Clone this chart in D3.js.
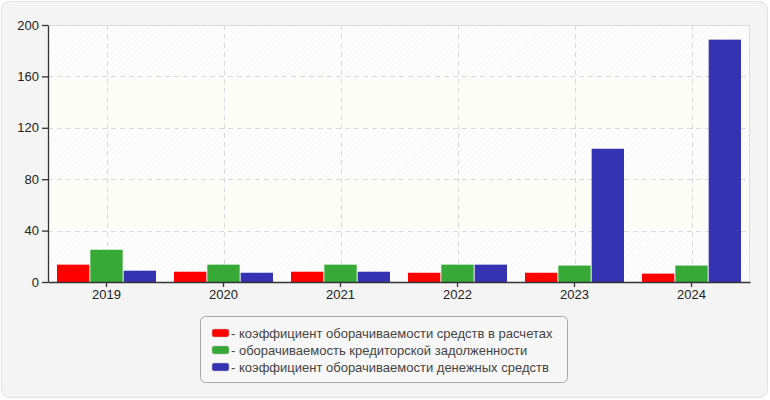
<!DOCTYPE html>
<html><head><meta charset="utf-8">
<script src="https://cdn.jsdelivr.net/npm/d3@7"></script>
<style>body{margin:0;background:#fff;font-family:"Liberation Sans",Arial,sans-serif}</style>
</head><body><svg id="c" width="770" height="400"></svg>
<script>
const categories = ["2019","2020","2021","2022","2023","2024"];
const seriesNames = [
  "- коэффициент оборачиваемости средств в расчетах",
  "- оборачиваемость кредиторской задолженности",
  "- коэффициент оборачиваемости денежных средств"
];
const seriesColors = ["#ff0000","#36a936","#3633b2"];
const receivablesTurnover = [13.5, 8.0, 8.0, 7.2, 7.2, 6.5];
const payablesTurnover = [25.1, 13.5, 13.5, 13.5, 12.8, 12.8];
const cashTurnover = [8.8, 7.2, 8.0, 13.5, 103.7, 188.6];
const yTicks = [0, 40, 80, 120, 160, 200];
const series = [receivablesTurnover, payablesTurnover, cashTurnover];

const svg = d3.select("#c");
const m = {l:48, r:750, t:25, b:282};
const FONT = "Liberation Sans, Arial, sans-serif";

svg.append("rect").attr("x",1.5).attr("y",1.5).attr("width",766).attr("height",396)
  .attr("rx",8).attr("fill","#f4f4f4").attr("stroke","#e2e2e2");

const defs = svg.append("defs");
const pat = defs.append("pattern").attr("id","hatch").attr("patternUnits","userSpaceOnUse")
  .attr("width",4).attr("height",4).attr("patternTransform","rotate(45)");
pat.append("rect").attr("width",4).attr("height",4).attr("fill","#ffffff");
pat.append("line").attr("x1",0).attr("y1",0).attr("x2",0).attr("y2",4)
  .attr("stroke","#ededed").attr("stroke-width",1.2);

const x = d3.scaleBand().domain(categories).range([m.l, m.r]);
const y = d3.scaleLinear().domain([0,200]).range([m.b, m.t]);

svg.append("rect").attr("x",m.l).attr("y",m.t).attr("width",m.r-m.l).attr("height",m.b-m.t)
  .attr("fill","url(#hatch)");
for (let i=0;i<yTicks.length-1;i++){
  if (i%2===1){
    svg.append("rect").attr("x",m.l).attr("y",y(yTicks[i+1])).attr("width",m.r-m.l)
      .attr("height",y(yTicks[i])-y(yTicks[i+1])).attr("fill","#fdfdf8");
  }
}
svg.append("path").attr("d",`M${m.l},${m.t+0.5}H${m.r-0.5}V${m.b}`).attr("fill","none").attr("stroke","#dcdcdc");

svg.append("g").selectAll("line").data(yTicks.filter(d=>d>0 && d<200)).join("line")
  .attr("x1",m.l).attr("x2",m.r).attr("y1",d=>Math.round(y(d))+0.5).attr("y2",d=>Math.round(y(d))+0.5)
  .attr("stroke","#dadada").attr("stroke-dasharray","5,4");
svg.append("g").selectAll("line").data(categories).join("line")
  .attr("x1",d=>Math.round(x(d)+x.bandwidth()/2)+0.5).attr("x2",d=>Math.round(x(d)+x.bandwidth()/2)+0.5)
  .attr("y1",m.t).attr("y2",m.b).attr("stroke","#dadada").attr("stroke-dasharray","5,4");

const inner = d3.scaleBand().domain([0,1,2]).range([0,99]).paddingInner(0.03);
const gBars = svg.append("g");
categories.forEach((c,i)=>{
  const x0 = x(c) + (x.bandwidth()-99)/2;
  series.forEach((s,j)=>{
    gBars.append("rect").attr("x",x0+inner(j)).attr("y",y(s[i]))
      .attr("width",inner.bandwidth()).attr("height",y(0)-y(s[i])).attr("fill",seriesColors[j]);
  });
});

const yAxis = svg.append("g").attr("transform",`translate(${m.l},0)`)
  .call(d3.axisLeft(y).tickValues(yTicks).tickSize(6).tickSizeOuter(0).tickPadding(3));
const xAxis = svg.append("g").attr("transform",`translate(0,${m.b})`)
  .call(d3.axisBottom(x).tickSize(5).tickSizeOuter(0).tickPadding(3));
[yAxis,xAxis].forEach(a=>{
  a.selectAll("path,line").attr("stroke","#333").attr("stroke-width",1.3);
  a.selectAll("text").attr("fill","#222").style("font-size","13px").style("font-family",FONT);
});

const lg = svg.append("g");
lg.append("rect").attr("x",200.5).attr("y",316.5).attr("width",367).attr("height",66).attr("rx",5)
  .attr("fill","#f7f7f7").attr("stroke","#a9a9a9");
seriesNames.forEach((n,i)=>{
  const yy = 333 + i*17;
  lg.append("rect").attr("x",212).attr("y",yy-4).attr("width",17).attr("height",8).attr("rx",2)
    .attr("fill",seriesColors[i]).attr("stroke","#bbb").attr("stroke-width",0.5);
  lg.append("text").attr("x",231).attr("y",yy+4.5).text(n).attr("fill","#444")
    .style("font-size","13px").style("font-family",FONT);
});
</script></body></html>
